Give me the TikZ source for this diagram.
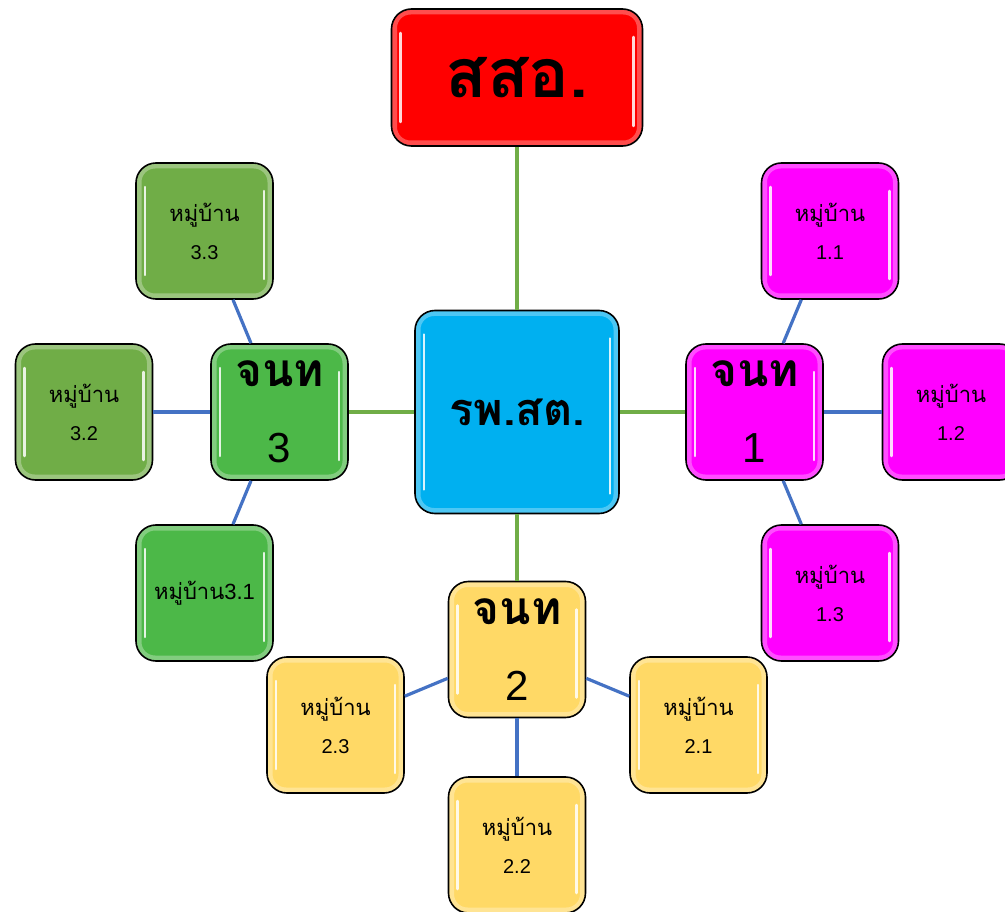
\documentclass[tikz,border=0pt]{standalone}
\usepackage{fontspec}
\setmainfont{Liberation Sans}
\newfontfamily\thaifont[Script=Thai]{Loma}
\usetikzlibrary{calc}

\definecolor{boxred}{HTML}{FF0000}
\definecolor{boxcyan}{HTML}{00B0F0}
\definecolor{boxpink}{HTML}{FF00FF}
\definecolor{boxgold}{HTML}{FFD966}
\definecolor{boxgreen}{HTML}{4CB848}
\definecolor{boxolive}{HTML}{70AD47}
\definecolor{linkgreen}{HTML}{70AD47}
\definecolor{linkblue}{HTML}{4472C4}

\tikzset{
  box/.style={draw=black, line width=1.6pt, rounded corners=20pt,
    minimum width=137pt, minimum height=136pt, align=center, inner sep=0pt,
    path picture={
      % glossy highlights along the sides
      \draw[white, line width=5pt, opacity=.3, rounded corners=16pt]
        ($(path picture bounding box.south west)+(3pt,3pt)$) rectangle
        ($(path picture bounding box.north east)+(-3pt,-3pt)$);
      \draw[white, line width=2.5pt, opacity=.85, line cap=round]
        ($(path picture bounding box.north west)+(9pt,-24pt)$) --
        ($(path picture bounding box.south west)+(9pt,24pt)$);
      \draw[white, line width=2.5pt, opacity=.85, line cap=round]
        ($(path picture bounding box.north east)+(-9pt,-28pt)$) --
        ($(path picture bounding box.south east)+(-9pt,20pt)$);
    }},
  staff/.style={box},
  village/.style={box, font=\fontsize{22}{24}\selectfont},
  hublink/.style={draw=linkgreen, line width=3.2pt},
  villink/.style={draw=linkblue, line width=3.2pt}
}

\newcommand{\staffname}[1]{{\thaifont\bfseries\fontsize{46}{50}\selectfont จนท}\\[46pt]{\fontsize{42}{46}\selectfont #1}}
\newcommand{\vilname}[1]{{\thaifont หมู่บ้าน}\\[14pt]{\fontsize{20}{22}\selectfont #1}}

\begin{document}
\begin{tikzpicture}[x=1pt,y=-1pt]
\useasboundingbox (0,0) rectangle (1005,912);

% top and centre
\node[box, fill=boxred, minimum width=251pt, minimum height=137pt] (ssa) at (517,77.5)
  {\thaifont\bfseries\fontsize{68}{74}\selectfont สสอ.};
\node[box, fill=boxcyan, minimum width=204pt, minimum height=203pt] (rps) at (517,412)
  {\thaifont\bfseries\fontsize{45}{50}\selectfont รพ.สต.};

% staff
\node[staff, fill=boxpink] (jnt1) at (754.5,412) {\staffname{1}};
\node[staff, fill=boxgold] (jnt2) at (517,649.5) {\staffname{2}};
\node[staff, fill=boxgreen] (jnt3) at (279.5,412) {\staffname{3}};

% villages
\node[village, fill=boxpink] (v11) at (830,231) {\vilname{1.1}};
\node[village, fill=boxpink] (v12) at (951,412) {\vilname{1.2}};
\node[village, fill=boxpink] (v13) at (830,593) {\vilname{1.3}};
\node[village, fill=boxgold] (v21) at (698.5,725) {\vilname{2.1}};
\node[village, fill=boxgold] (v22) at (517,845) {\vilname{2.2}};
\node[village, fill=boxgold] (v23) at (335.5,725) {\vilname{2.3}};
\node[village, fill=boxgreen] (v31) at (204.5,593) {{\thaifont หมู่บ้าน}3.1};
\node[village, fill=boxolive] (v32) at (84,412) {\vilname{3.2}};
\node[village, fill=boxolive] (v33) at (204.5,231) {\vilname{3.3}};

% links
\draw[hublink] (rps) -- (ssa);
\draw[hublink] (rps) -- (jnt1);
\draw[hublink] (rps) -- (jnt2);
\draw[hublink] (rps) -- (jnt3);

\draw[villink] (jnt1) -- (v11);
\draw[villink] (jnt1) -- (v12);
\draw[villink] (jnt1) -- (v13);
\draw[villink] (jnt2) -- (v21);
\draw[villink] (jnt2) -- (v22);
\draw[villink] (jnt2) -- (v23);
\draw[villink] (jnt3) -- (v31);
\draw[villink] (jnt3) -- (v32);
\draw[villink] (jnt3) -- (v33);
\end{tikzpicture}
\end{document}
